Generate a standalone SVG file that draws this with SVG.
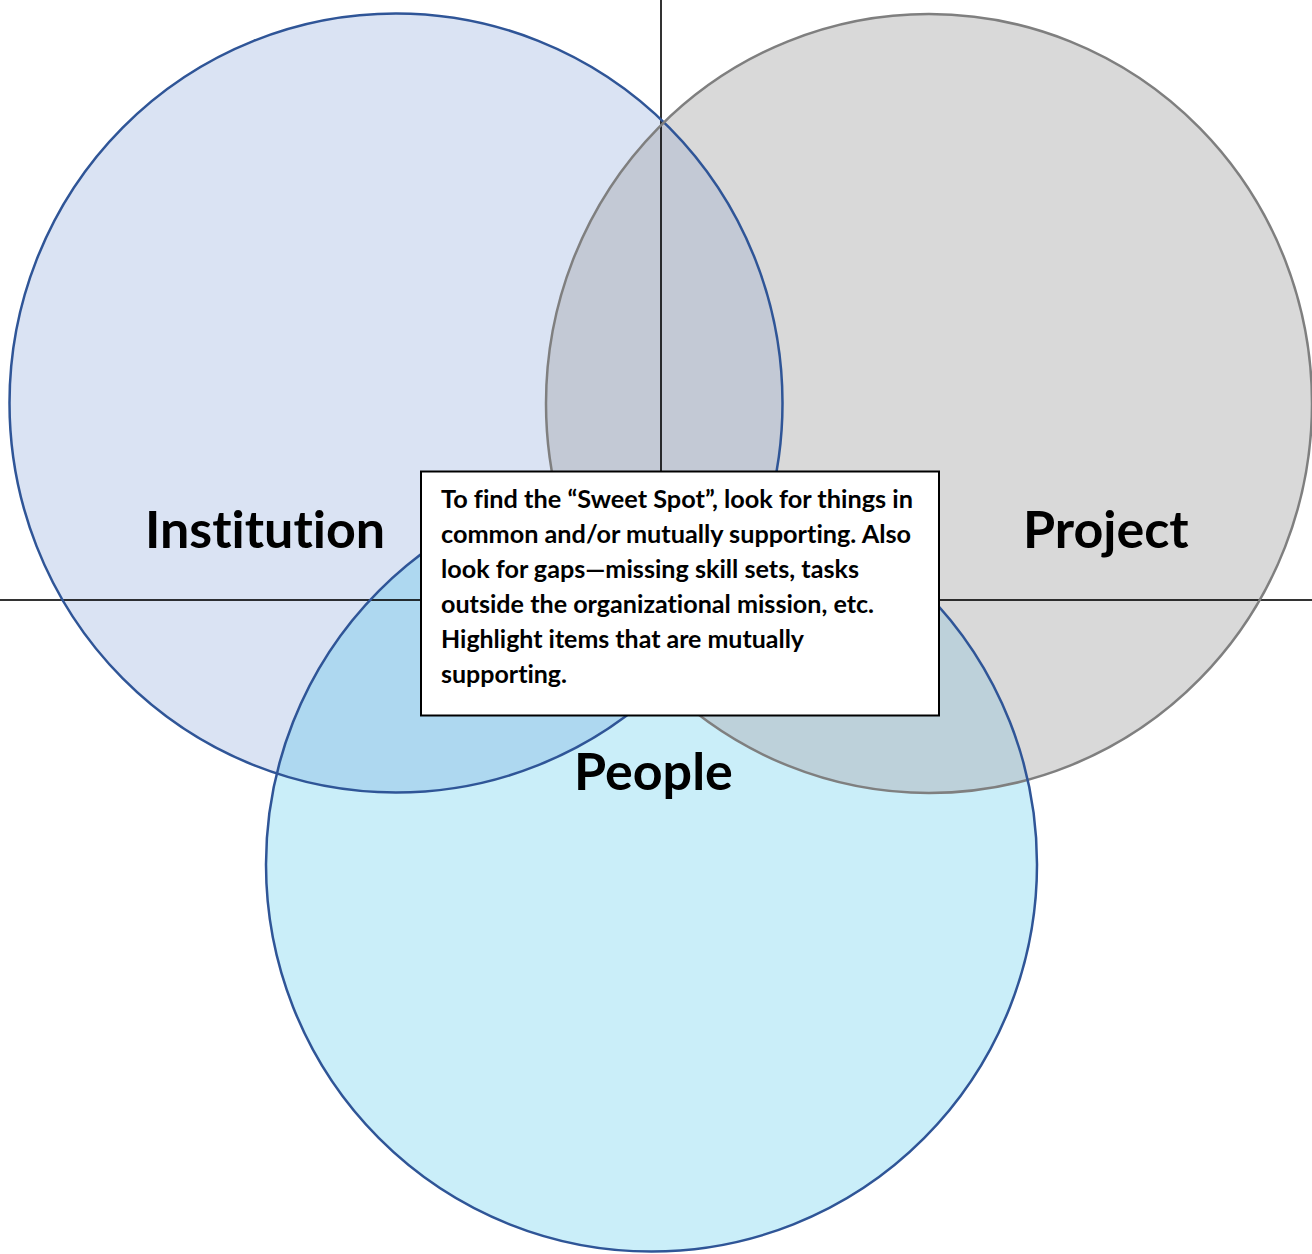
<svg xmlns="http://www.w3.org/2000/svg" width="1312" height="1254" viewBox="0 0 1312 1254">
  <style>
    .lbl { font-family: Lato, "Open Sans", "Liberation Sans", sans-serif; font-weight: 700; font-size: 52px; fill: #000; font-variant-ligatures: none; font-feature-settings: "liga" 0, "dlig" 0; }
    .note { font-family: Lato, "Open Sans", "Liberation Sans", sans-serif; font-weight: 700; font-size: 24px; fill: #000; font-variant-ligatures: none; font-feature-settings: "liga" 0, "dlig" 0; }
    .axis { stroke: #000; stroke-width: 2; stroke-opacity: 0.8; }
    .blue { fill: none; stroke: #2f5597; stroke-width: 2.5; }
    .grey { fill: none; stroke: #7f7f7f; stroke-width: 2.5; }
  </style>
  <defs>
    <clipPath id="cInst"><ellipse cx="396" cy="403" rx="386.5" ry="389.5"/></clipPath>
    <clipPath id="cProj"><ellipse cx="929" cy="403.5" rx="383" ry="389.5"/></clipPath>
    <clipPath id="cPeop"><ellipse cx="651.5" cy="864.5" rx="385.5" ry="387"/></clipPath>
  </defs>
  <rect width="1312" height="1254" fill="#fff"/>
  <g id="fills">
    <ellipse cx="396" cy="403" rx="386.5" ry="389.5" fill="#dae3f3"/>
    <ellipse cx="929" cy="403.5" rx="383" ry="389.5" fill="#d9d9d9"/>
    <ellipse cx="651.5" cy="864.5" rx="385.5" ry="387" fill="#caeef9"/>
    <ellipse cx="929" cy="403.5" rx="383" ry="389.5" fill="#c3c9d5" clip-path="url(#cInst)"/>
    <ellipse cx="651.5" cy="864.5" rx="385.5" ry="387" fill="#aed8f0" clip-path="url(#cInst)"/>
    <ellipse cx="651.5" cy="864.5" rx="385.5" ry="387" fill="#bdd1da" clip-path="url(#cProj)"/>
  </g>
  <g id="connectors">
    <line class="axis" x1="661" y1="0" x2="661" y2="600"/>
    <line class="axis" x1="0" y1="600" x2="1312" y2="600"/>
  </g>
  <g id="institution">
    <ellipse class="blue" cx="396" cy="403" rx="386.5" ry="389.5"/>
    <text class="lbl" x="145" y="548">Institution</text>
  </g>
  <g id="project">
    <ellipse class="grey" cx="929" cy="403.5" rx="383" ry="389.5"/>
    <text class="lbl" x="1023" y="548">Project</text>
  </g>
  <g id="people">
    <ellipse class="blue" cx="651.5" cy="864.5" rx="385.5" ry="387"/>
    <text class="lbl" x="574" y="790">People</text>
  </g>
  <g id="note">
    <rect x="421" y="471.5" width="518" height="244" fill="#fff" stroke="#000" stroke-width="2"/>
    <text class="note" x="441" y="508" textLength="472" lengthAdjust="spacingAndGlyphs">To find the “Sweet Spot”, look for things in</text>
    <text class="note" x="441" y="543" textLength="470" lengthAdjust="spacingAndGlyphs">common and/or mutually supporting. Also</text>
    <text class="note" x="441" y="578" textLength="418" lengthAdjust="spacingAndGlyphs">look for gaps—missing skill sets, tasks</text>
    <text class="note" x="441" y="613" textLength="433" lengthAdjust="spacingAndGlyphs">outside the organizational mission, etc.</text>
    <text class="note" x="441" y="648" textLength="363" lengthAdjust="spacingAndGlyphs">Highlight items that are mutually</text>
    <text class="note" x="441" y="683" textLength="126" lengthAdjust="spacingAndGlyphs">supporting.</text>
  </g>
</svg>
